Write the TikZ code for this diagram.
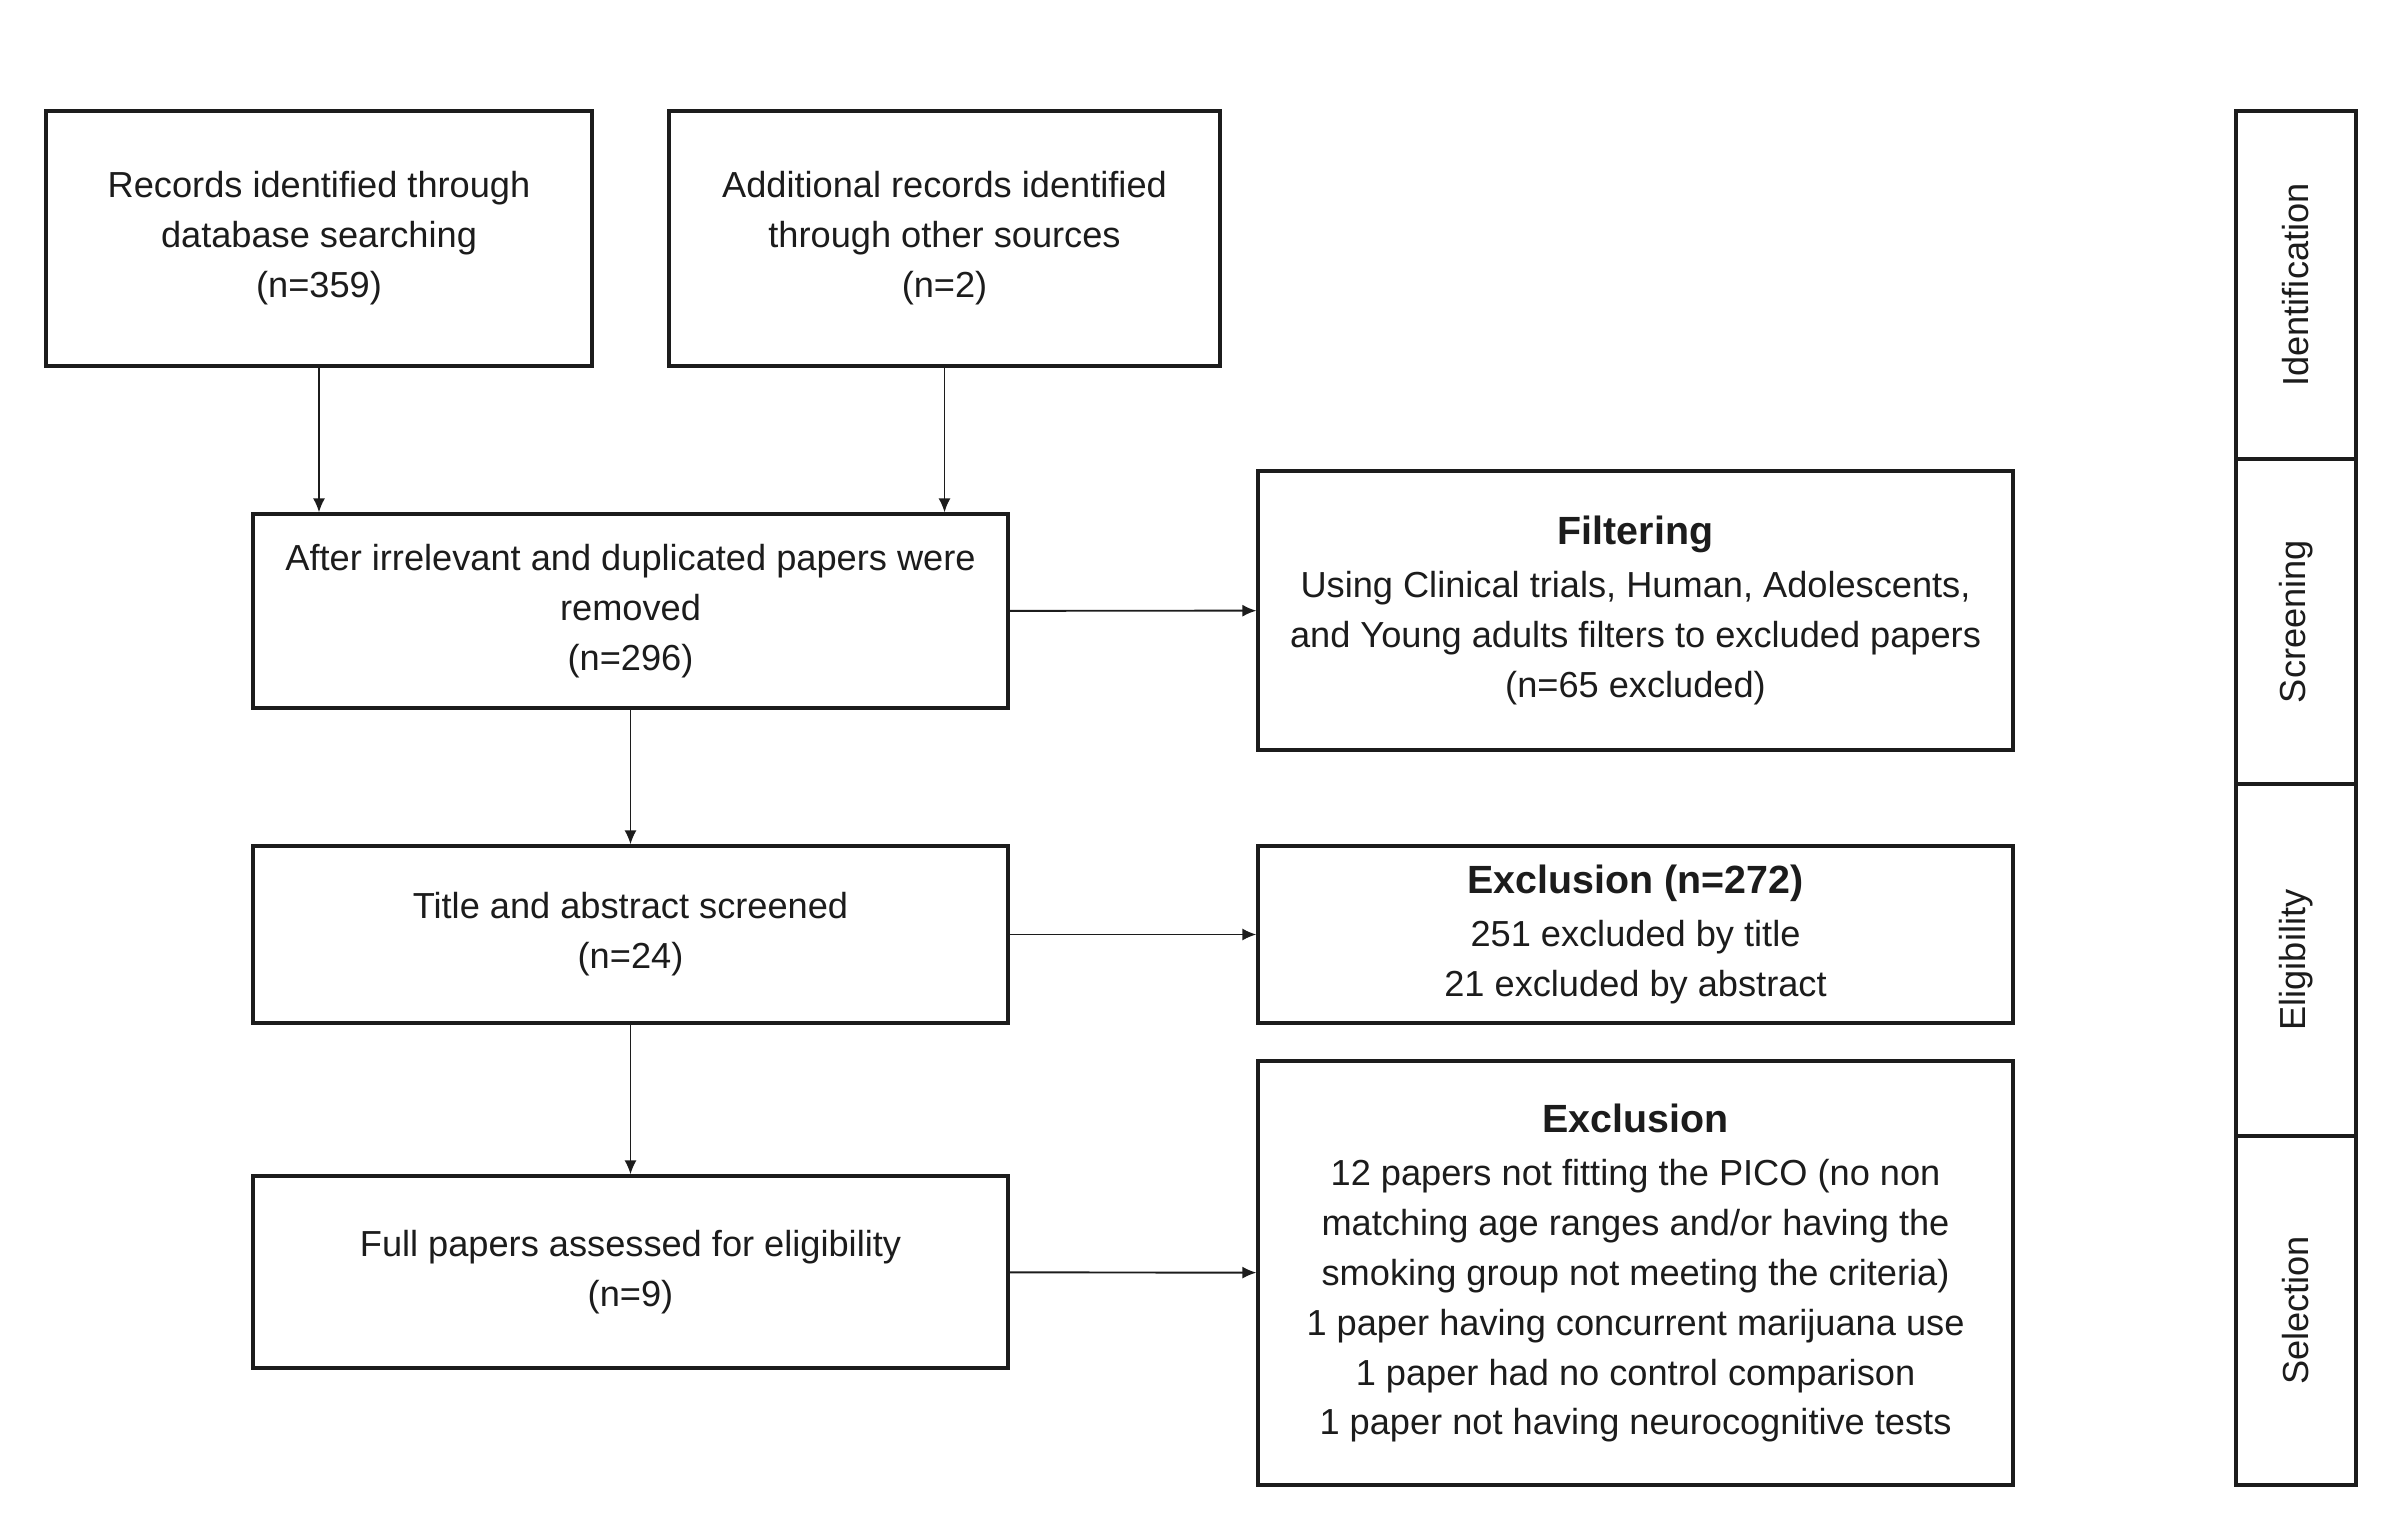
\documentclass[tikz,border=0pt]{standalone}
\usepackage{fontspec}
\setmainfont{Liberation Sans}
\usepackage{tikz}
\usetikzlibrary{arrows.meta,positioning}
\definecolor{flowink}{RGB}{28,28,28}
\newcommand{\boxhead}[1]{{\bfseries\fontsize{11.2}{15}\selectfont #1}\\[1pt]}

\begin{document}
\begin{tikzpicture}[>={Latex[length=1.4mm,width=1.2mm]},
  box/.style={draw=flowink,line width=0.9pt,align=center,text=flowink,inner sep=0pt,
    font=\fontsize{10.3}{14.2}\selectfont},
  sidebox/.style={draw=flowink,line width=0.9pt,minimum width=1.2cm,text=flowink,
    font=\fontsize{10.3}{14.2}\selectfont},
  flow/.style={->,draw=flowink,line width=0.55pt}]
\useasboundingbox[fill=white] (0,0) rectangle (23.91,15.35);
\node[box,minimum width=5.46cm,minimum height=2.55cm] (rec) at (3.19,12.965)
  {Records identified through\\database searching\\(n=359)};
\node[box,minimum width=5.51cm,minimum height=2.55cm] (addl) at (9.445,12.965)
  {Additional records identified\\through other sources\\(n=2)};
\node[box,minimum width=7.55cm,minimum height=1.94cm] (dedup) at (6.305,9.24)
  {After irrelevant and duplicated papers were\\removed\\(n=296)};
\node[box,minimum width=7.55cm,minimum height=1.77cm] (titles) at (6.305,6.005)
  {Title and abstract screened\\(n=24)};
\node[box,minimum width=7.55cm,minimum height=1.92cm] (fullp) at (6.305,2.63)
  {Full papers assessed for eligibility\\(n=9)};
\node[box,minimum width=7.55cm,minimum height=2.79cm] (filt) at (16.355,9.245)
  {\boxhead{Filtering}Using Clinical trials, Human, Adolescents,\\and Young adults filters to excluded papers\\(n=65 excluded)};
\node[box,minimum width=7.55cm,minimum height=1.77cm] (excl) at (16.355,6.005)
  {\boxhead{Exclusion (n=272)}251 excluded by title\\21 excluded by abstract};
\node[box,minimum width=7.55cm,minimum height=4.24cm] (exclfull) at (16.355,2.62)
  {\boxhead{Exclusion}12 papers not fitting the PICO (no non\\matching age ranges and/or having the\\smoking group not meeting the criteria)\\1 paper having concurrent marijuana use\\1 paper had no control comparison\\1 paper not having neurocognitive tests};
\node[sidebox,minimum height=3.48cm] (idf) at (22.96,12.50) {\rotatebox{90}{Identification}};
\node[sidebox,minimum height=3.25cm] (scr) at (22.96,9.135) {\rotatebox{90}{Screening}};
\node[sidebox,minimum height=3.52cm] (elig) at (22.96,5.75) {\rotatebox{90}{Eligibility}};
\node[sidebox,minimum height=3.49cm] (sel) at (22.96,2.245) {\rotatebox{90}{Selection}};
\draw[flow] (rec.south) -- (rec.south |- dedup.north);
\draw[flow] (addl.south) -- (addl.south |- dedup.north);
\draw[flow] (dedup) -- (titles);
\draw[flow] (titles) -- (fullp);
\draw[flow] (dedup) -- (filt);
\draw[flow] (titles) -- (excl);
\draw[flow] (fullp) -- (exclfull);
\end{tikzpicture}
\end{document}
